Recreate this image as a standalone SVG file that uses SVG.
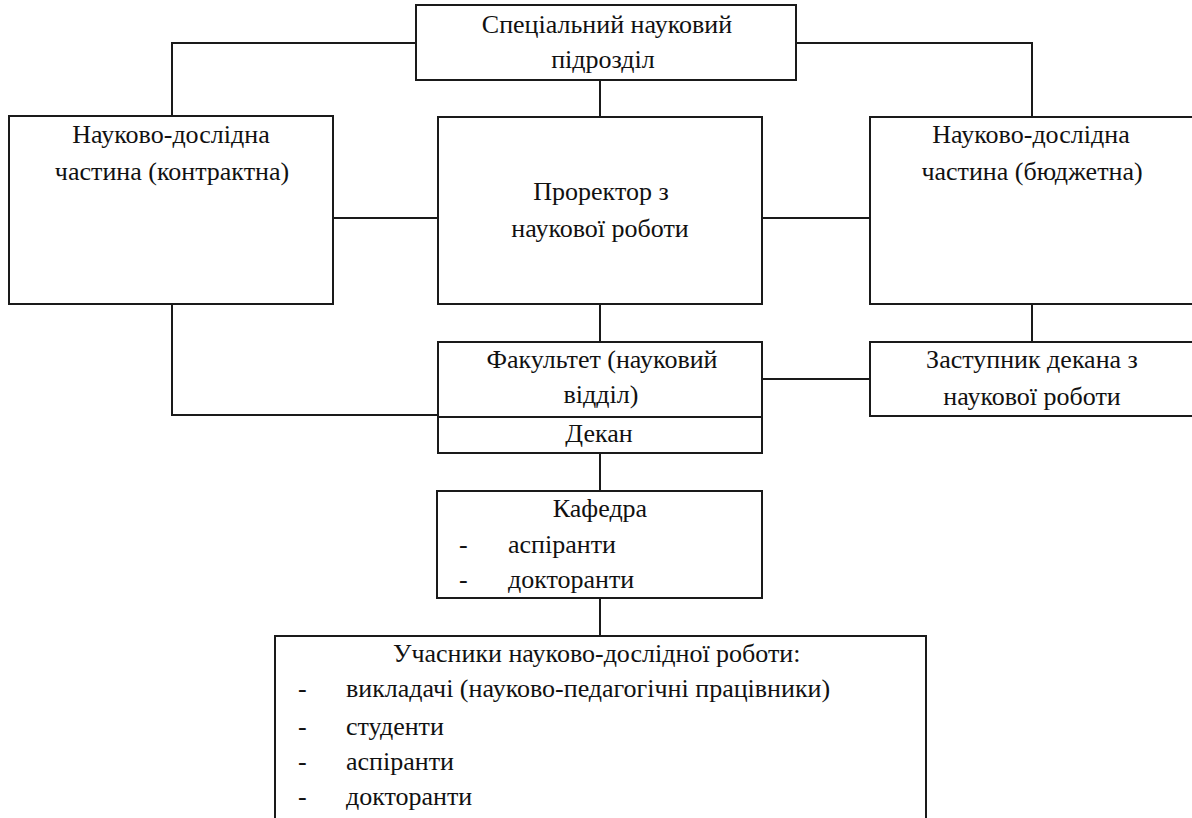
<svg xmlns="http://www.w3.org/2000/svg" width="1192" height="818" viewBox="0 0 1192 818">
<rect width="1192" height="818" fill="#fff"/>
<g id="connectors" fill="none" stroke="#1a1a1a" stroke-width="2">
<path d="M416 43H172V116"/>
<path d="M796 43H1032V117"/>
<path d="M600 80V117"/>
<path d="M333 218H438"/>
<path d="M762 218H870"/>
<path d="M600 304V342"/>
<path d="M172 304V415H438"/>
<path d="M1032 304V342"/>
<path d="M762 379H870"/>
<path d="M600 453V491"/>
<path d="M600 598V636"/>
</g>
<g id="nodes">
<g id="special">
<rect x="416" y="5" width="380" height="75" fill="#fff" stroke="#1a1a1a" stroke-width="2"/>
<text font-family="Liberation Serif" font-size="26" fill="#111" text-anchor="middle" x="607" y="33">Спеціальний науковий</text>
<text font-family="Liberation Serif" font-size="26" fill="#111" text-anchor="middle" x="603" y="68">підрозділ</text>
</g>
<g id="contract">
<rect x="9" y="116" width="324" height="188" fill="#fff" stroke="#1a1a1a" stroke-width="2"/>
<text font-family="Liberation Serif" font-size="26" fill="#111" text-anchor="middle" x="171" y="143">Науково-дослідна</text>
<text font-family="Liberation Serif" font-size="26" fill="#111" text-anchor="middle" x="172" y="180">частина (контрактна)</text>
</g>
<g id="prorector">
<rect x="438" y="117" width="324" height="187" fill="#fff" stroke="#1a1a1a" stroke-width="2"/>
<text font-family="Liberation Serif" font-size="26" fill="#111" text-anchor="middle" x="601" y="200">Проректор з</text>
<text font-family="Liberation Serif" font-size="26" fill="#111" text-anchor="middle" x="600" y="237">наукової роботи</text>
</g>
<g id="budget">
<rect x="870" y="117" width="340" height="187" fill="#fff" stroke="#1a1a1a" stroke-width="2"/>
<text font-family="Liberation Serif" font-size="26" fill="#111" text-anchor="middle" x="1031" y="143">Науково-дослідна</text>
<text font-family="Liberation Serif" font-size="26" fill="#111" text-anchor="middle" x="1032" y="180">частина (бюджетна)</text>
</g>
<g id="faculty">
<rect x="438" y="342" width="324" height="111" fill="#fff" stroke="#1a1a1a" stroke-width="2"/>
<path d="M438 417H762" fill="none" stroke="#1a1a1a" stroke-width="2"/>
<text font-family="Liberation Serif" font-size="26" fill="#111" text-anchor="middle" x="602" y="368">Факультет (науковий</text>
<text font-family="Liberation Serif" font-size="26" fill="#111" text-anchor="middle" x="601" y="403">відділ)</text>
<text font-family="Liberation Serif" font-size="26" fill="#111" text-anchor="middle" x="599" y="442">Декан</text>
</g>
<g id="deputy">
<rect x="870" y="342" width="340" height="74" fill="#fff" stroke="#1a1a1a" stroke-width="2"/>
<text font-family="Liberation Serif" font-size="26" fill="#111" text-anchor="middle" x="1032" y="368">Заступник декана з</text>
<text font-family="Liberation Serif" font-size="26" fill="#111" text-anchor="middle" x="1032" y="405">наукової роботи</text>
</g>
<g id="department">
<rect x="437" y="491" width="325" height="107" fill="#fff" stroke="#1a1a1a" stroke-width="2"/>
<text font-family="Liberation Serif" font-size="26" fill="#111" text-anchor="middle" x="600" y="517">Кафедра</text>
<text font-family="Liberation Serif" font-size="26" fill="#111" x="459" y="553">-</text>
<text font-family="Liberation Serif" font-size="26" fill="#111" x="508" y="553">аспіранти</text>
<text font-family="Liberation Serif" font-size="26" fill="#111" x="459" y="588">-</text>
<text font-family="Liberation Serif" font-size="26" fill="#111" x="508" y="588">докторанти</text>
</g>
<g id="participants">
<rect x="275" y="636" width="651" height="200" fill="#fff" stroke="#1a1a1a" stroke-width="2"/>
<text font-family="Liberation Serif" font-size="26" fill="#111" x="393" y="662">Учасники науково-дослідної роботи:</text>
<text font-family="Liberation Serif" font-size="26" fill="#111" x="298" y="697">-</text>
<text font-family="Liberation Serif" font-size="26" fill="#111" x="346" y="697">викладачі (науково-педагогічні працівники)</text>
<text font-family="Liberation Serif" font-size="26" fill="#111" x="298" y="735">-</text>
<text font-family="Liberation Serif" font-size="26" fill="#111" x="346" y="735">студенти</text>
<text font-family="Liberation Serif" font-size="26" fill="#111" x="298" y="770">-</text>
<text font-family="Liberation Serif" font-size="26" fill="#111" x="346" y="770">аспіранти</text>
<text font-family="Liberation Serif" font-size="26" fill="#111" x="298" y="805">-</text>
<text font-family="Liberation Serif" font-size="26" fill="#111" x="346" y="805">докторанти</text>
</g>
</g>
</svg>
